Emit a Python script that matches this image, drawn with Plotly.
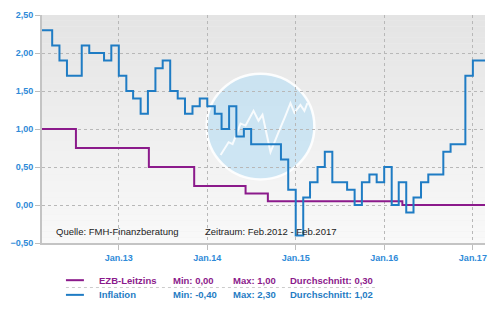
import plotly.graph_objects as go
import pandas as pd

# ---------------- data ----------------
months = pd.date_range("2012-02-01", "2017-02-01", freq="MS")
period_end = "2017-02-28"

inflation = [
    2.3, 2.3, 2.1, 1.9, 1.7, 1.7, 2.1, 2.0, 2.0, 1.9, 2.1,              # 2012 Feb-Dec
    1.7, 1.5, 1.4, 1.2, 1.5, 1.8, 1.9, 1.5, 1.4, 1.2, 1.3, 1.4,         # 2013
    1.3, 1.2, 1.0, 1.3, 0.9, 1.0, 0.8, 0.8, 0.8, 0.8, 0.6, 0.2,         # 2014
    -0.4, 0.1, 0.3, 0.5, 0.7, 0.3, 0.3, 0.2, 0.0, 0.3, 0.4, 0.3,        # 2015
    0.5, 0.0, 0.3, -0.1, 0.1, 0.3, 0.4, 0.4, 0.7, 0.8, 0.8, 1.7,        # 2016
    1.9, 1.9,                                                            # 2017 Jan-Feb
]

ezb_dates = ["2012-02-01", "2012-07-08", "2013-05-05", "2013-11-08",
             "2014-06-08", "2014-09-08", "2016-03-16"]
ezb_rate = [1.00, 0.75, 0.50, 0.25, 0.15, 0.05, 0.00]

tick_dates = ["2013-01-01", "2014-01-01", "2015-01-01", "2016-01-01", "2017-01-01"]
tick_labels = ["Jan.13", "Jan.14", "Jan.15", "Jan.16", "Jan.17"]

series_names = ["EZB-Leitzins", "Inflation"]
series_min = ["0,00", "-0,40"]
series_max = ["1,00", "2,30"]
series_avg = ["0,30", "1,02"]

source_text = "Quelle: FMH-Finanzberatung"
period_text = "Zeitraum: Feb.2012 - Feb.2017"

# ---------------- styling ----------------
PURPLE = "#8b1a8b"
BLUE = "#1f7cc4"
TICKBLUE = "#2e8ad8"
FONT = "Liberation Sans"
W, H = 500, 333
ML, MR, MT, MB = 41, 15, 10, 90
PW, PH = W - ML - MR, H - MT - MB


def px(x):
    return (x - ML) / PW


def py(y):
    return (H - MB - y) / PH


fig = go.Figure()
fig.add_trace(go.Scatter(
    x=ezb_dates + [period_end], y=ezb_rate + [ezb_rate[-1]],
    mode="lines", line=dict(color=PURPLE, width=2, shape="hv"),
    name=series_names[0], showlegend=False, hoverinfo="skip"))
fig.add_trace(go.Scatter(
    x=list(months) + [pd.Timestamp(period_end)], y=inflation + [inflation[-1]],
    mode="lines", line=dict(color=BLUE, width=2, shape="hv"),
    name=series_names[1], showlegend=False, hoverinfo="skip"))

shapes = []
# gradient background of plot area
n = 40
c_top, c_bot = (228, 228, 228), (249, 249, 249)
for i in range(n):
    t = i / (n - 1)
    c = tuple(round(c_top[k] + (c_bot[k] - c_top[k]) * t) for k in range(3))
    shapes.append(dict(type="rect", xref="paper", yref="paper",
                       x0=0, x1=1, y0=1 - (i + 1) / n, y1=1 - i / n,
                       fillcolor="rgb(%d,%d,%d)" % c, line=dict(width=0),
                       layer="below"))
# watermark circle
cx, cy, r = 260, 124, 54
shapes.append(dict(type="circle", xref="paper", yref="paper",
                   x0=px(cx - r), x1=px(cx + r), y0=py(cy + r), y1=py(cy - r),
                   fillcolor="rgba(190,224,244,0.70)",
                   line=dict(color="rgba(255,255,255,0.9)", width=2.5),
                   layer="between"))
zz = [(220, 153), (228, 140), (232, 142), (240, 121), (245, 123), (253, 108),
      (258, 118), (262, 112), (270, 150), (278, 130), (285, 113), (290, 100),
      (294, 110), (300, 102), (304, 108), (307, 100)]
path = "M " + " L ".join("%.4f,%.4f" % (px(a), py(b)) for a, b in zz)
shapes.append(dict(type="path", xref="paper", yref="paper", path=path,
                   line=dict(color="rgba(255,255,255,0.85)", width=2),
                   layer="between"))

# legend
row_y = [281, 296]
colors = [PURPLE, BLUE]
annotations = []
for i in range(2):
    shapes.append(dict(type="line", xref="paper", yref="paper",
                       x0=px(65), x1=px(83), y0=py(row_y[i]), y1=py(row_y[i]),
                       line=dict(color=colors[i], width=2)))
    for xpos, txt in [(96, series_names[i]), (170, "Min: " + series_min[i]),
                      (230, "Max: " + series_max[i]),
                      (288, "Durchschnitt: " + series_avg[i])]:
        annotations.append(dict(xref="paper", yref="paper", x=px(xpos), y=py(row_y[i]),
                                text=txt, showarrow=False, xanchor="left",
                                yanchor="middle",
                                font=dict(family=FONT, size=9.5, color=colors[i],
                                          weight="bold")))
shapes.append(dict(type="line", xref="paper", yref="paper",
                   x0=px(65), x1=px(375), y0=py(288.5), y1=py(288.5),
                   line=dict(color="#cccccc", width=1, dash="dot")))

for xpos, txt in [(53, source_text), (202, period_text)]:
    annotations.append(dict(xref="paper", yref="paper", x=px(xpos), y=py(231.5),
                            text=txt, showarrow=False, xanchor="left",
                            yanchor="middle",
                            font=dict(family=FONT, size=9.5, color="#222222")))

fig.update_layout(
    width=W, height=H,
    margin=dict(l=ML, r=MR, t=MT, b=MB),
    paper_bgcolor="white", plot_bgcolor="#eeeeee",
    separators=",.",
    shapes=shapes, annotations=annotations,
    showlegend=False,
    font=dict(family=FONT),
)
fig.update_xaxes(
    type="date", range=["2012-02-19", "2017-02-20"],
    tickvals=tick_dates, ticktext=tick_labels,
    showgrid=True, gridcolor="#b8b8b8", griddash="dot", gridwidth=1,
    showline=True, linecolor="#c4c4c4", linewidth=2,
    ticks="outside", ticklen=5, tickcolor="#bdbdbd", tickwidth=1,
    tickfont=dict(family=FONT, size=9, color=TICKBLUE, weight="bold"),
    zeroline=False, fixedrange=True,
)
fig.update_yaxes(
    range=[-0.5, 2.5], dtick=0.5, tick0=0, tickformat=".2f",
    showgrid=True, gridcolor="#b8b8b8", griddash="dot", gridwidth=1,
    showline=True, linecolor="#c4c4c4", linewidth=2,
    ticks="outside", ticklen=5, tickcolor="#bdbdbd", tickwidth=1,
    tickfont=dict(family=FONT, size=9, color=TICKBLUE, weight="bold"),
    zeroline=False, fixedrange=True,
)

fig.write_html("out.html")
